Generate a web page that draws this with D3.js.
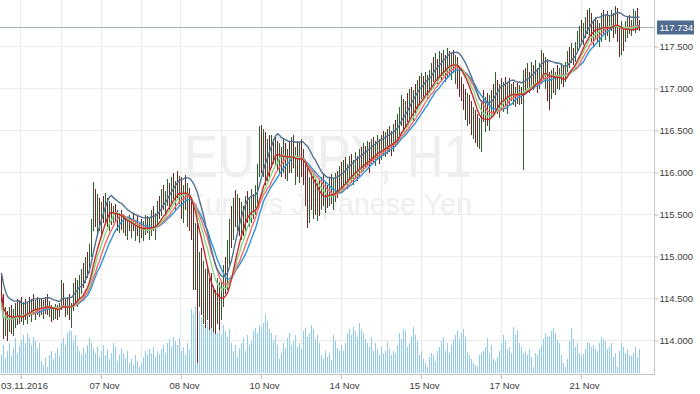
<!DOCTYPE html>
<html>
<head>
<meta charset="utf-8">
<script src="https://cdn.jsdelivr.net/npm/d3@7"></script>
<style>
  body { margin: 0; background: #fff; }
  svg { display: block; }
  .tick text { font-family: "Liberation Sans", Arial, sans-serif; font-size: 9.5px; fill: #3c3c3c; }
</style>
</head>
<body>
<svg id="chart" width="700" height="394"></svg>
<script>
// EURJPY H1 bars (one bar per hour)
const highs = [
  114.80,114.55,114.40,114.35,114.40,114.42,114.38,114.45,114.50,114.48,
  114.52,114.46,114.50,114.45,114.52,114.50,114.55,114.48,114.52,114.50,
  114.50,114.48,114.52,114.55,114.47,114.42,114.40,114.44,114.42,114.45,
  114.72,114.68,114.50,114.52,114.55,114.45,114.68,114.75,114.72,114.78,
  114.85,114.92,115.00,115.05,115.15,115.45,115.89,115.80,115.75,115.70,
  115.65,115.72,115.76,115.70,115.66,115.64,115.60,115.62,115.55,115.52,
  115.55,115.50,115.48,115.45,115.50,115.46,115.52,115.44,115.48,115.40,
  115.45,115.42,115.50,115.48,115.46,115.55,115.60,115.52,115.66,115.72,
  115.80,115.85,115.78,115.92,115.88,115.95,116.00,115.90,116.02,115.96,
  115.95,115.85,115.97,115.88,115.82,115.70,115.64,115.40,115.40,115.05,
  115.10,114.95,114.85,114.90,114.75,114.80,114.65,114.60,114.75,114.70,
  114.70,114.90,115.00,115.20,115.45,115.60,115.70,115.79,115.75,115.70,
  115.65,115.60,115.72,115.78,115.70,115.80,115.75,115.85,116.10,116.55,
  116.57,116.52,116.48,116.40,116.45,116.45,116.40,116.42,116.38,116.35,
  116.30,116.40,116.35,116.28,116.38,116.42,116.45,116.30,116.38,116.35,
  116.40,116.28,116.10,116.05,115.95,116.00,115.98,115.95,115.90,115.92,
  115.95,116.00,115.90,115.85,115.95,115.98,115.92,116.00,116.02,116.08,
  116.12,116.15,116.18,116.10,116.20,116.22,116.15,116.25,116.20,116.28,
  116.30,116.35,116.32,116.38,116.36,116.40,116.42,116.38,116.45,116.40,
  116.45,116.50,116.48,116.52,116.55,116.50,116.58,116.62,116.70,116.78,
  116.92,116.88,116.85,116.95,117.00,117.02,116.98,117.05,117.10,117.15,
  117.18,117.15,117.20,117.16,117.22,117.30,117.38,117.42,117.35,117.45,
  117.42,117.46,117.40,117.48,117.45,117.42,117.46,117.40,117.38,117.25,
  117.14,117.05,117.00,116.95,116.92,116.85,116.78,116.75,116.70,116.65,
  116.85,116.98,116.90,116.95,116.92,116.98,117.05,117.20,117.10,117.05,
  117.12,117.08,117.14,117.06,117.12,117.05,117.08,117.02,117.06,117.04,
  117.02,117.22,117.25,117.30,117.20,117.32,117.28,117.34,117.25,117.30,
  117.46,117.42,117.38,117.35,117.20,117.22,117.25,117.20,117.28,117.24,
  117.30,117.28,117.32,117.45,117.50,117.54,117.48,117.55,117.68,117.75,
  117.82,117.78,117.85,117.94,117.96,117.90,117.80,117.85,117.82,117.78,
  117.90,117.94,117.88,117.92,117.86,117.93,117.90,117.98,117.96,117.75,
  117.80,117.72,117.80,117.85,117.88,117.82,117.95,117.92,117.96,117.82
];
const lows = [
  114.40,114.02,114.05,114.00,114.10,114.08,114.05,114.15,114.18,114.20,
  114.22,114.18,114.25,114.20,114.28,114.22,114.30,114.25,114.30,114.28,
  114.30,114.26,114.32,114.30,114.28,114.22,114.24,114.26,114.25,114.28,
  114.36,114.40,114.28,114.30,114.25,114.15,114.35,114.45,114.40,114.50,
  114.55,114.62,114.68,114.75,114.80,115.00,115.30,115.35,115.25,115.30,
  115.25,115.40,115.38,115.35,115.30,115.38,115.40,115.42,115.30,115.28,
  115.32,115.28,115.25,115.20,115.30,115.22,115.30,115.18,115.25,115.16,
  115.22,115.18,115.26,115.28,115.20,115.25,115.30,115.20,115.38,115.45,
  115.48,115.55,115.50,115.60,115.55,115.62,115.68,115.55,115.70,115.62,
  115.45,115.40,115.55,115.35,115.30,115.20,114.60,114.60,113.73,114.40,
  114.30,114.20,114.15,114.25,114.12,114.15,114.10,114.08,114.20,114.12,
  114.25,114.40,114.55,114.60,114.90,115.10,115.20,115.35,115.30,115.25,
  115.20,115.25,115.30,115.40,115.35,115.40,115.45,115.50,115.60,115.95,
  116.00,115.95,115.85,115.90,115.95,116.05,116.10,116.08,116.02,116.00,
  115.95,116.00,115.92,115.90,116.00,116.00,116.05,115.85,115.95,115.88,
  115.95,115.85,115.60,115.34,115.40,115.55,115.45,115.50,115.42,115.48,
  115.55,115.60,115.52,115.58,115.60,115.62,115.55,115.65,115.70,115.75,
  115.80,115.82,115.85,115.80,115.90,115.88,115.85,115.92,115.90,115.95,
  116.00,116.02,116.05,116.08,116.00,116.10,116.12,116.08,116.15,116.10,
  116.15,116.20,116.18,116.22,116.25,116.20,116.25,116.30,116.35,116.45,
  116.55,116.50,116.52,116.60,116.62,116.65,116.60,116.70,116.75,116.80,
  116.88,116.90,116.92,116.88,116.95,117.00,117.08,117.10,117.05,117.12,
  117.10,117.15,117.08,117.12,117.15,117.10,117.18,117.05,117.00,116.90,
  116.85,116.75,116.62,116.55,116.58,116.45,116.40,116.35,116.30,116.28,
  116.25,116.60,116.48,116.55,116.50,116.65,116.70,116.75,116.70,116.65,
  116.75,116.72,116.78,116.70,116.80,116.85,116.80,116.78,116.82,116.80,
  116.82,116.03,116.95,117.00,116.95,117.02,116.98,117.05,116.95,117.00,
  117.05,117.10,117.00,116.85,116.75,116.88,116.95,116.92,117.00,116.98,
  117.05,117.02,117.08,117.20,117.25,117.30,117.28,117.32,117.45,117.50,
  117.55,117.52,117.60,117.65,117.62,117.55,117.50,117.58,117.55,117.50,
  117.55,117.65,117.58,117.62,117.55,117.68,117.60,117.65,117.55,117.38,
  117.40,117.45,117.55,117.60,117.65,117.62,117.68,117.66,117.70,117.68
];
const closes = [
  114.45,114.10,114.30,114.15,114.30,114.20,114.32,114.40,114.25,114.42,
  114.30,114.40,114.32,114.42,114.35,114.45,114.38,114.44,114.40,114.46,
  114.36,114.44,114.40,114.35,114.42,114.30,114.36,114.38,114.30,114.42,
  114.66,114.45,114.34,114.48,114.30,114.40,114.62,114.50,114.68,114.72,
  114.80,114.70,114.95,114.82,115.10,115.40,115.70,115.45,115.60,115.40,
  115.55,115.48,115.68,115.42,115.58,115.45,115.55,115.50,115.40,115.46,
  115.33,115.36,115.26,115.34,115.31,115.36,115.31,115.34,115.26,115.30,
  115.24,115.32,115.38,115.29,115.35,115.50,115.35,115.48,115.62,115.55,
  115.74,115.60,115.72,115.85,115.62,115.90,115.75,115.82,115.78,115.90,
  115.55,115.78,115.60,115.80,115.45,115.30,114.80,115.20,114.50,115.00,
  114.70,114.80,114.55,114.75,114.45,114.40,114.60,114.35,114.65,114.50,
  114.65,114.85,114.75,115.10,115.35,115.25,115.60,115.45,115.68,115.40,
  115.55,115.35,115.65,115.50,115.62,115.75,115.55,115.80,116.05,116.40,
  116.10,116.35,116.00,116.25,116.05,116.35,116.15,116.32,116.10,116.28,
  116.05,116.30,116.00,116.20,116.10,116.35,116.15,116.22,116.05,116.25,
  116.10,115.95,115.70,115.50,115.80,115.62,115.85,115.58,115.75,115.60,
  115.82,115.70,115.80,115.65,115.88,115.70,115.85,115.95,115.78,116.00,
  115.90,116.10,115.95,116.05,116.15,115.98,116.10,116.20,116.00,116.22,
  116.12,116.28,116.15,116.32,116.20,116.35,116.25,116.32,116.40,116.22,
  116.40,116.30,116.42,116.35,116.50,116.30,116.52,116.45,116.65,116.70,
  116.85,116.60,116.78,116.70,116.92,116.75,116.90,116.85,117.05,116.95,
  117.10,116.98,117.15,117.00,117.18,117.25,117.15,117.38,117.12,117.40,
  117.20,117.42,117.18,117.44,117.25,117.38,117.22,117.35,117.10,117.00,
  116.95,116.85,116.70,116.88,116.65,116.55,116.70,116.45,116.40,116.55,
  116.75,116.70,116.85,116.65,116.88,116.90,116.80,117.10,116.80,116.98,
  116.85,117.02,116.90,117.00,116.92,117.00,116.88,116.98,116.90,117.00,
  116.92,117.15,117.05,117.25,117.02,117.28,117.08,117.30,117.05,117.22,
  117.40,117.20,117.30,116.95,116.90,117.15,117.05,117.18,117.10,117.20,
  117.25,117.12,117.28,117.40,117.35,117.50,117.38,117.52,117.62,117.70,
  117.65,117.75,117.80,117.72,117.90,117.62,117.58,117.70,117.62,117.72,
  117.85,117.75,117.82,117.70,117.80,117.88,117.68,117.90,117.62,117.45,
  117.72,117.55,117.75,117.80,117.70,117.78,117.85,117.90,117.80,117.734
];
const volumes = [
  18,28,15,22,30,17,25,35,20,27,
  33,38,30,40,35,28,36,32,25,30,
  12,8,15,6,18,22,14,20,25,17,
  30,35,28,40,43,42,32,38,27,22,
  18,25,20,28,35,30,24,20,26,16,
  22,28,18,24,14,20,30,26,12,18,
  25,20,15,22,10,14,8,18,12,6,
  10,16,22,18,24,20,26,16,22,19,
  24,28,20,30,34,26,36,32,28,35,
  22,26,18,30,24,64,60,66,58,62,
  55,48,60,52,44,56,46,50,40,45,
  38,48,42,36,44,30,22,28,16,25,
  30,35,22,38,28,32,42,45,40,48,
  46,50,59,52,44,40,32,38,28,14,
  20,30,25,35,40,28,32,38,26,30,
  24,42,45,36,40,48,44,34,38,30,
  18,14,22,16,20,13,38,32,25,22,
  28,22,30,40,44,38,46,42,36,50,
  44,40,34,30,26,36,22,30,24,18,
  26,20,22,31,24,18,22,20,28,40,
  34,44,42,26,30,36,46,38,32,18,
  22,14,10,6,16,20,18,12,22,26,
  32,36,22,30,20,28,33,38,42,34,
  40,44,36,21,18,14,10,8,6,18,
  20,22,26,35,20,28,14,12,16,22,
  30,38,32,24,26,20,46,38,43,30,
  26,20,22,18,24,16,6,20,18,24,
  28,34,40,36,37,42,45,40,33,30,
  18,10,6,14,32,45,34,26,30,20,
  18,19,24,31,30,26,28,24,22,30,
  36,34,32,24,26,30,16,20,6,22,
  30,26,20,24,18,17,20,26,16,24
];
const dateLabels = ["03.11.2016", "07 Nov", "08 Nov", "10 Nov", "14 Nov", "15 Nov", "17 Nov", "21 Nov"];
const dateLabelBars = [10, 50, 90, 130, 170, 210, 250, 290];
const gridBars = [10, 30, 50, 70, 90, 110, 130, 150, 170, 190, 210, 230, 250, 270, 290, 310];
const priceTicks = [114.0, 114.5, 115.0, 115.5, 116.0, 116.5, 117.0, 117.5];
const lastPrice = 117.734;
const symbolTitle = "EURJPY, H1";
const symbolDesc = "Euro vs Japanese Yen";

const svg = d3.select("#chart");
const plotW = 654, plotH = 374;

const x = d3.scaleLinear().domain([0, highs.length - 1]).range([1.5, 639.5]);
const y = d3.scaleLinear().domain([113.6012, 118.0536]).range([374, 0]);
const yVol = d3.scaleLinear().domain([0, 70]).range([373, 303]);

// simple moving average over the bars seen so far
function sma(src, p) {
  return src.map((v, i) => d3.mean(src.slice(Math.max(0, i - p + 1), i + 1)));
}
const typical = highs.map((h, i) => (h + lows[i] + closes[i]) / 3);
const lines = [
  { vals: sma(closes, 19), color: "#2b93d6" },
  { vals: sma(closes, 16), color: "#f46a6a" },
  { vals: sma(closes, 13), color: "#86d886" },
  { vals: sma(highs, 10), color: "#52708f" },
  { vals: sma(typical, 10), color: "#c62a2a" }
];

svg.append("defs").append("clipPath").attr("id", "plot")
  .append("rect").attr("width", plotW).attr("height", plotH);

// grid
const grid = svg.append("g").attr("shape-rendering", "crispEdges");
grid.selectAll(".vg").data(gridBars).join("line")
  .attr("x1", d => Math.round(x(d)) - 0.5).attr("x2", d => Math.round(x(d)) - 0.5)
  .attr("y1", 0).attr("y2", plotH)
  .attr("stroke", "#ebebeb");
grid.selectAll(".hg").data(priceTicks).join("line")
  .attr("x1", 0).attr("x2", plotW)
  .attr("y1", d => y(d)).attr("y2", d => y(d))
  .attr("stroke", "#ebebeb");

// watermark
const wm = svg.append("g").attr("fill", "#efefef")
  .attr("font-family", "Arial, 'Liberation Sans', sans-serif");
wm.append("text").attr("x", 184).attr("y", 177)
  .attr("font-size", 60).attr("textLength", 288).attr("lengthAdjust", "spacingAndGlyphs")
  .text(symbolTitle);
wm.append("text").attr("x", 186).attr("y", 214)
  .attr("font-size", 29).attr("textLength", 286).attr("lengthAdjust", "spacingAndGlyphs")
  .text(symbolDesc);

const plot = svg.append("g").attr("clip-path", "url(#plot)");

// current price line
plot.append("line")
  .attr("x1", 0).attr("x2", plotW)
  .attr("y1", Math.round(y(lastPrice)) + 0.5).attr("y2", Math.round(y(lastPrice)) + 0.5)
  .attr("stroke", "#a8b2c0").attr("shape-rendering", "crispEdges");

// volume
plot.append("g").attr("shape-rendering", "crispEdges")
  .selectAll("line").data(volumes).join("line")
  .attr("x1", (d, i) => x(i)).attr("x2", (d, i) => x(i))
  .attr("y1", yVol(0)).attr("y2", d => yVol(d))
  .attr("stroke", "#8ecbef");

// bars
plot.append("g").attr("shape-rendering", "crispEdges")
  .selectAll("line").data(highs).join("line")
  .attr("x1", (d, i) => x(i)).attr("x2", (d, i) => x(i))
  .attr("y1", d => y(d)).attr("y2", (d, i) => y(lows[i]))
  .attr("stroke", (d, i) => {
    const open = i === 0 ? highs[0] : closes[i - 1];
    return closes[i] >= open ? "#2f5e2f" : "#6c2424";
  });

// moving average lines
const lineGen = d3.line().x((d, i) => x(i)).y(d => y(d));
plot.selectAll(".ma").data(lines).join("path")
  .attr("d", d => lineGen(d.vals))
  .attr("fill", "none")
  .attr("stroke", d => d.color)
  .attr("stroke-width", 1.4);

// axes
const axisY = d3.axisRight(y).tickValues(priceTicks).tickFormat(d3.format(".3f"))
  .tickSize(4).tickPadding(1);
svg.append("g").attr("transform", `translate(${plotW + 0.5},0)`).call(axisY)
  .call(g => g.select(".domain").remove())
  .call(g => g.selectAll(".tick line").attr("stroke", "#bdbdbd"));

const axisX = d3.axisBottom(x).tickValues(dateLabelBars)
  .tickFormat((d, i) => dateLabels[i]).tickSize(5).tickPadding(3);
svg.append("g").attr("transform", `translate(-0.5,${plotH})`).call(axisX)
  .call(g => g.select(".domain").remove())
  .call(g => g.selectAll(".tick line").attr("stroke", "#bdbdbd"))
  .call(g => g.selectAll(".tick text").attr("dx", 3));

svg.append("g").attr("stroke", "#c4c4c4").attr("shape-rendering", "crispEdges")
  .call(g => g.append("line").attr("x1", plotW + 0.5).attr("x2", plotW + 0.5).attr("y1", 0).attr("y2", plotH + 0.5))
  .call(g => g.append("line").attr("x1", 0).attr("x2", plotW + 0.5).attr("y1", plotH + 0.5).attr("y2", plotH + 0.5));

// last price tag
const tag = svg.append("g").attr("transform", `translate(657,${Math.round(y(lastPrice)) - 6.5})`);
tag.append("rect").attr("width", 37).attr("height", 14).attr("fill", "#4f6c8f");
tag.append("text").attr("x", 2.5).attr("y", 7).attr("dy", "0.34em")
  .attr("font-family", "'Liberation Sans', Arial, sans-serif").attr("font-size", 9.5)
  .attr("fill", "#fff").text(d3.format(".3f")(lastPrice));
</script>
</body>
</html>
